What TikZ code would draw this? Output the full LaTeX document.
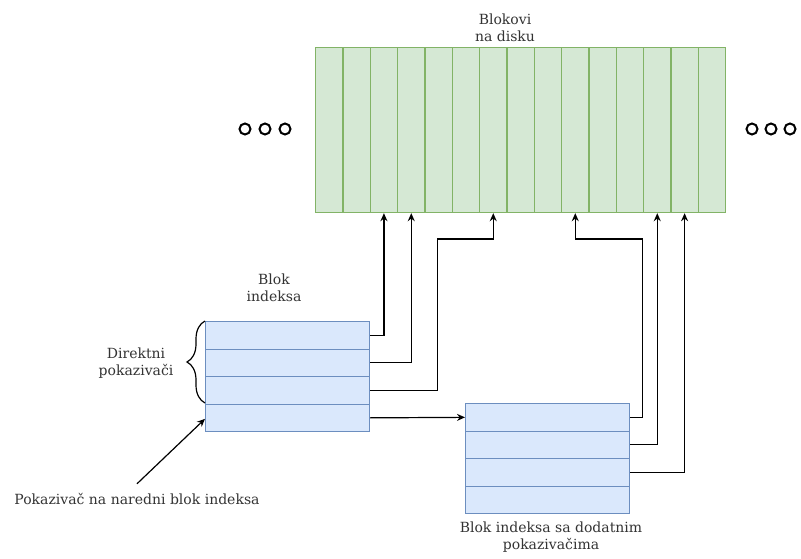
\documentclass[tikz,border=0pt]{standalone}
\usepackage{fontspec}
\setmainfont{DejaVu Serif}
\usetikzlibrary{arrows.meta, positioning, decorations.pathreplacing}
\definecolor{diskfill}{HTML}{D5E8D4}
\definecolor{diskline}{HTML}{82B366}
\definecolor{idxfill}{HTML}{DAE8FC}
\definecolor{idxline}{HTML}{6C8EBF}
\definecolor{ink}{HTML}{333333}

\begin{document}
\begin{tikzpicture}[x=1pt,y=-1pt,
    every node/.style={font=\fontsize{14}{17.5}\selectfont, text=ink},
    diskcell/.style={draw=diskline, fill=diskfill, line width=1.2pt,
        minimum width=27.333pt, minimum height=165pt, inner sep=0pt, anchor=north west},
    idxrow/.style={draw=idxline, fill=idxfill, line width=1.2pt,
        minimum width=164pt, minimum height=27.5pt, inner sep=0pt, anchor=north west},
    ptr/.style={draw=black, line width=1.2pt, -{Stealth[length=8pt,width=7pt]}},
    more/.style={circle, draw=black, line width=2pt, minimum size=11pt, inner sep=0pt}]
    \useasboundingbox (0,0) rectangle (801,559);

    % blokovi na disku
    \foreach \i in {0,...,14}
        \node[diskcell] (d\i) at (315+27.333*\i,47) {};
    \node[align=center] (disklbl) at (505,28) {Blokovi\\na disku};
    \foreach \i/\x in {1/245,2/265,3/285}
        \node[more] (ldot\i) at (\x,129) {};
    \foreach \i/\x in {1/752,2/771,3/790}
        \node[more] (rdot\i) at (\x,129) {};

    % blok indeksa
    \foreach \r in {1,...,4}
        \node[idxrow] (ib\r) at (205,321+27.5*\r-27.5) {};
    \node[align=center] (iblbl) at (274,288) {Blok\\indeksa};

    % blok sa dodatnim pokazivacima
    \foreach \r in {1,...,4}
        \node[idxrow] (xb\r) at (465,403+27.5*\r-27.5) {};
    \node[align=center] (xblbl) at (551,537) {Blok indeksa sa dodatnim\\pokazivačima};

    \draw[line width=1.2pt, decorate, decoration={brace, amplitude=18pt}]
        (205,403) -- (205,321);
    \node[align=center] (dirlbl) at (136,363) {Direktni\\pokazivači};

    \node (note) at (137,499) {Pokazivač na naredni blok indeksa};
    \draw[ptr] ([yshift=6pt]note.north) -- ([yshift=-1pt]ib4.west);

    % pokazivaci
    \coordinate (b3) at (437.5,239);
    \coordinate (bx1) at (642.5,239);
    \draw[ptr] (ib1.east) -| (d2.south);
    \draw[ptr] (ib2.east) -| (d3.south);
    \draw[ptr] (ib3.east) -| (b3) -| (d6.south);
    \draw[ptr] (ib4.east) -- (xb1.west);
    \draw[ptr] (xb1.east) -| (bx1) -| (d9.south);
    \draw[ptr] (xb2.east) -| (d12.south);
    \draw[ptr] (xb3.east) -| (d13.south);
\end{tikzpicture}
\end{document}
